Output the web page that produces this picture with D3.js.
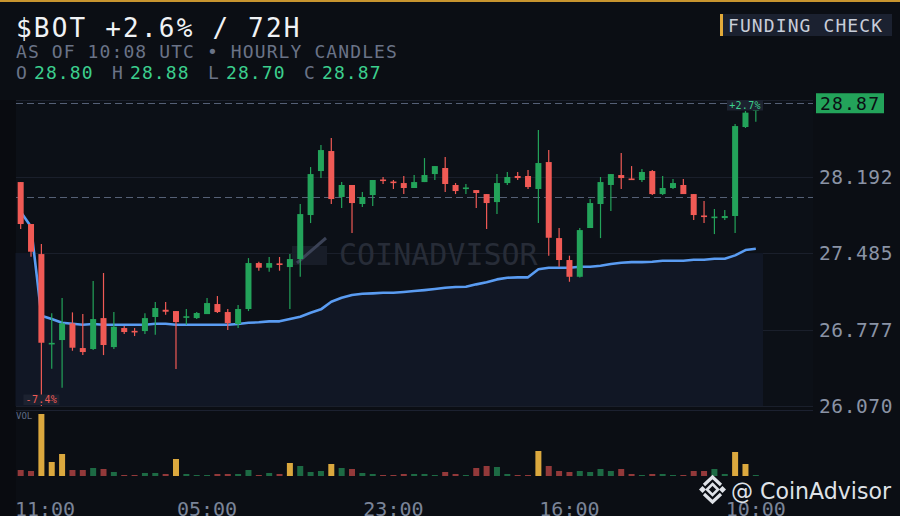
<!DOCTYPE html>
<html>
<head>
<meta charset="utf-8">
<script src="https://cdn.jsdelivr.net/npm/d3@7"></script>
<style>
  html, body { margin: 0; padding: 0; background: #0b0e14; }
  svg { display: block; }
</style>
</head>
<body>
<svg id="chart" width="900" height="516"></svg>
<script>
// hourly candles, 72 of them, oldest first
const opens = [28.141, 27.753, 27.475, 26.645, 26.680, 26.834, 26.606, 26.597, 26.883, 26.615,
  26.791, 26.765, 26.763, 26.893, 26.960, 26.948, 26.891, 26.883, 26.920, 27.013,
  26.939, 26.828, 26.967, 27.392, 27.349, 27.389, 27.355, 27.429, 27.836, 28.243,
  28.428, 28.003, 28.114, 27.938, 28.021, 28.165, 28.146, 28.132, 28.086, 28.141,
  28.215, 28.271, 28.114, 28.081, 28.067, 28.030, 27.956, 28.132, 28.197, 28.197,
  28.077, 28.326, 27.623, 27.420, 27.265, 27.716, 27.938, 28.114, 28.206, 28.174,
  28.160, 28.243, 28.030, 28.086, 28.114, 28.030, 27.832, 27.813, 27.808, 27.827,
  28.650, 28.80];
const highs = [28.141, 27.753, 27.568, 26.927, 27.068, 26.936, 26.920, 27.226, 27.300, 26.939,
  26.809, 26.791, 26.927, 27.031, 27.031, 26.948, 26.967, 26.939, 27.068, 27.087,
  26.967, 27.004, 27.438, 27.404, 27.448, 27.448, 27.475, 27.938, 28.280, 28.484,
  28.548, 28.141, 28.114, 28.049, 28.160, 28.188, 28.160, 28.197, 28.206, 28.363,
  28.289, 28.373, 28.132, 28.123, 28.067, 28.030, 28.215, 28.234, 28.234, 28.252,
  28.622, 28.437, 27.716, 27.460, 27.716, 27.984, 28.188, 28.215, 28.410, 28.289,
  28.262, 28.252, 28.197, 28.169, 28.169, 28.030, 27.966, 27.892, 27.883, 28.678,
  28.798, 28.88];
const lows = [27.707, 27.450, 26.070, 26.414, 26.239, 26.581, 26.541, 26.587, 26.541, 26.597,
  26.735, 26.717, 26.735, 26.729, 26.914, 26.412, 26.821, 26.874, 26.920, 26.930,
  26.772, 26.791, 26.948, 27.321, 27.312, 27.321, 26.967, 27.265, 27.762, 28.178,
  27.938, 27.901, 27.670, 27.910, 27.919, 28.123, 28.077, 28.030, 28.086, 28.141,
  28.160, 28.049, 28.030, 28.030, 27.901, 27.707, 27.845, 28.114, 28.160, 28.077,
  27.762, 27.460, 27.358, 27.219, 27.258, 27.716, 27.623, 27.873, 28.077, 28.160,
  28.141, 28.021, 28.021, 28.077, 28.030, 27.790, 27.762, 27.660, 27.790, 27.670,
  28.641, 28.70];
const closes = [27.753, 27.497, 26.655, 26.654, 26.834, 26.609, 26.569, 26.874, 26.634, 26.803,
  26.754, 26.756, 26.883, 26.976, 26.942, 26.846, 26.900, 26.930, 27.022, 26.939,
  26.837, 26.967, 27.392, 27.349, 27.392, 27.380, 27.429, 27.845, 28.215, 28.437,
  27.984, 28.114, 27.947, 28.003, 28.160, 28.155, 28.137, 28.086, 28.141, 28.206,
  28.289, 28.123, 28.058, 28.091, 28.040, 27.947, 28.132, 28.188, 28.178, 28.095,
  28.317, 27.626, 27.420, 27.265, 27.697, 27.947, 28.141, 28.215, 28.178, 28.165,
  28.234, 28.030, 28.086, 28.132, 28.030, 27.836, 27.822, 27.822, 27.827, 28.659,
  28.783, 28.87];
const volumes = [60, 50, 620, 140, 220, 60, 60, 80, 70, 40,
  10, 10, 30, 30, 20, 170, 20, 10, 10, 20,
  20, 20, 60, 10, 30, 20, 130, 100, 40, 50,
  120, 80, 70, 30, 20, 10, 10, 20, 20, 20,
  10, 40, 20, 10, 80, 100, 90, 20, 10, 10,
  250, 100, 50, 40, 50, 40, 70, 50, 70, 20,
  10, 20, 20, 10, 10, 50, 50, 70, 20, 240,
  120, 10];
const vwap = [27.867, 27.728, 26.905, 26.874, 26.840, 26.831, 26.821, 26.828, 26.821, 26.821,
  26.821, 26.821, 26.821, 26.831, 26.831, 26.821, 26.821, 26.821, 26.821, 26.821,
  26.821, 26.828, 26.840, 26.844, 26.853, 26.853, 26.874, 26.895, 26.932, 26.964,
  27.034, 27.071, 27.096, 27.108, 27.112, 27.117, 27.117, 27.124, 27.133, 27.142,
  27.152, 27.164, 27.170, 27.173, 27.195, 27.214, 27.241, 27.256, 27.260, 27.260,
  27.334, 27.349, 27.349, 27.349, 27.358, 27.358, 27.367, 27.383, 27.395, 27.401,
  27.401, 27.404, 27.413, 27.413, 27.413, 27.423, 27.423, 27.432, 27.432, 27.463,
  27.512, 27.524];

const priceTicks = [26.070, 26.777, 27.485, 28.192];
const priceTop = 28.90;
const refPrice = 28.00;
const spikeVol = 110;
const timeTickIdx = [0, 18, 36, 53, 71];
const timeTickLabels = ["11:00", "05:00", "23:00", "16:00", "10:00"];
const extremeLabels = ["+2.7%", "-7.4%"];

const mono = "'DejaVu Sans Mono', 'Liberation Mono', monospace";
const C = {
  bg: "#0b0e14", plot: "#0c1017", area: "#111725", grid: "#1a1f2b",
  up: "#23a35a", down: "#f05a55", volUp: "#1d6a44", volDown: "#93393a", volSpike: "#dba83e",
  line: "#5a9cf2", dash: "#556076", axis: "#8a93a5", sub: "#6a7387", green: "#3ccf8e"
};

const svg = d3.select("#chart");
const n = opens.length;
const L = 16, R = 813, T = 100, B = 406;

const x = d3.scaleBand().domain(d3.range(n)).range([15.5, 761]);
const cx = i => x(i) + x.bandwidth() / 2;
const y = d3.scaleLinear().domain([priceTicks[0], priceTop]).range([B, T]);
const yv = d3.scaleLinear().domain([0, d3.max(volumes)]).range([476, 414]);

// background
svg.append("rect").attr("width", 900).attr("height", 516).attr("fill", C.bg);
svg.append("rect").attr("x", 0).attr("y", 100).attr("width", L).attr("height", 416).attr("fill", "#090b10");
svg.append("rect").attr("x", L).attr("y", T).attr("width", R - L).attr("height", B - T).attr("fill", C.plot);
svg.append("rect").attr("width", 900).attr("height", 2).attr("fill", "#c8952f");

// header
svg.append("text").attr("x", 16).attr("y", 37).attr("font-family", mono).attr("font-size", 26)
  .attr("letter-spacing", 2.2).attr("fill", "#f0f2f5")
  .text(`$BOT ${d3.format("+.1%")(closes[n - 1] / opens[0] - 1)} / 72H`);
svg.append("text").attr("x", 16).attr("y", 58).attr("font-family", mono).attr("font-size", 18)
  .attr("letter-spacing", 1.1).attr("fill", C.sub)
  .text("AS OF 10:08 UTC • HOURLY CANDLES");

const ohlc = [["O", opens[n - 1]], ["H", highs[n - 1]], ["L", lows[n - 1]], ["C", closes[n - 1]]];
ohlc.forEach(([k, v], j) => {
  const gx = 16 + j * 96;
  svg.append("text").attr("x", gx).attr("y", 79).attr("font-family", mono).attr("font-size", 18)
    .attr("fill", C.sub).text(k);
  svg.append("text").attr("x", gx + 18).attr("y", 79).attr("font-family", mono).attr("font-size", 18)
    .attr("letter-spacing", 1.1).attr("fill", C.green).text(v.toFixed(2));
});

// funding check badge
svg.append("rect").attr("x", 720).attr("y", 14).attr("width", 172).attr("height", 22).attr("fill", "#1b2130");
svg.append("rect").attr("x", 720).attr("y", 14).attr("width", 3).attr("height", 22).attr("fill", "#e2aa3a");
svg.append("text").attr("x", 728).attr("y", 32).attr("font-family", mono).attr("font-size", 18)
  .attr("letter-spacing", 1.1).attr("fill", "#c8cdd8").text("FUNDING CHECK");

// grid
svg.append("g").selectAll("line").data(priceTicks.concat([priceTop])).join("line")
  .attr("x1", L).attr("x2", R).attr("y1", d => Math.round(y(d)) + 0.5).attr("y2", d => Math.round(y(d)) + 0.5)
  .attr("stroke", C.grid).attr("stroke-width", 1);

// area under vwap, never above the middle grid line
const areaPts = [{ x: x.range()[0], v: vwap[0] }]
  .concat(vwap.map((v, i) => ({ x: cx(i), v })))
  .concat([{ x: x.range()[1] + 2, v: vwap[n - 1] }]);
const capY = y(priceTicks[2]);
svg.append("path").datum(areaPts)
  .attr("d", d3.area().x(d => d.x).y0(B).y1(d => Math.max(y(d.v), capY)))
  .attr("fill", C.area);

// watermark
const wm = svg.append("g").attr("opacity", 1);
wm.append("rect").attr("x", 292).attr("y", 246).attr("width", 35).attr("height", 19).attr("fill", "#181d28");
wm.append("line").attr("x1", 297).attr("y1", 263).attr("x2", 326).attr("y2", 238)
  .attr("stroke", "#3b4256").attr("stroke-width", 3);
wm.append("text").attr("x", 339).attr("y", 265).attr("font-family", mono).attr("font-size", 30)
  .attr("fill", "#272c37").text("COINADVISOR");

// dashed reference lines
[refPrice, closes[n - 1]].forEach(p => {
  svg.append("line").attr("x1", L).attr("x2", R)
    .attr("y1", Math.round(y(p)) + 0.5).attr("y2", Math.round(y(p)) + 0.5)
    .attr("stroke", C.dash).attr("stroke-width", 1).attr("stroke-dasharray", "7,4");
});

// vwap line
svg.append("path").datum(vwap)
  .attr("d", d3.line().x((d, i) => cx(i)).y(d => y(d)))
  .attr("fill", "none").attr("stroke", C.line).attr("stroke-width", 2.6)
  .attr("stroke-linejoin", "round");

// candles
const candles = d3.range(n).map(i => ({ i, o: opens[i], h: highs[i], l: lows[i], c: closes[i], up: closes[i] >= opens[i] }));
const cg = svg.append("g").selectAll("g").data(candles).join("g");
cg.append("line")
  .attr("x1", d => cx(d.i)).attr("x2", d => cx(d.i))
  .attr("y1", d => y(d.h)).attr("y2", d => y(d.l))
  .attr("stroke", d => d.up ? C.up : C.down).attr("stroke-width", 1.2);
cg.append("rect")
  .attr("x", d => cx(d.i) - 3).attr("width", 6)
  .attr("y", d => y(Math.max(d.o, d.c)))
  .attr("height", d => Math.max(1.6, Math.abs(y(d.o) - y(d.c))))
  .attr("fill", d => d.up ? C.up : C.down);

// extreme labels (max high / min low), kept inside the plot
const iMax = d3.maxIndex(highs), iMin = d3.minIndex(lows);
const bw = 36, bh = 10.5;
const clampX = v => Math.max(L + bw / 2 + 4, Math.min(x.range()[1] + 2 - bw / 2, v));
[[iMax, extremeLabels[0], C.green, Math.max(T, y(highs[iMax]) - 4 - bh)],
 [iMin, extremeLabels[1], C.down, Math.min(B - bh - 1, y(lows[iMin]) + 4)]].forEach(([i, t, col, by]) => {
  const mx = clampX(cx(i));
  svg.append("rect").attr("x", mx - bw / 2).attr("y", by).attr("width", bw).attr("height", bh).attr("fill", "#1c2230");
  svg.append("text").attr("x", mx).attr("y", by + bh - 2).attr("text-anchor", "middle")
    .attr("font-family", mono).attr("font-size", 10).attr("letter-spacing", 0.3).attr("fill", col).text(t);
});

// right axis
svg.append("g").selectAll("text").data(priceTicks).join("text")
  .attr("x", 819).attr("y", d => y(d)).attr("dy", "0.36em")
  .attr("font-family", mono).attr("font-size", 19.5).attr("letter-spacing", 0.6)
  .attr("fill", C.axis).text(d => d.toFixed(3));

// last price tag
const ly = y(closes[n - 1]);
svg.append("rect").attr("x", 816).attr("y", ly - 10).attr("width", 68).attr("height", 20).attr("fill", C.up);
svg.append("text").attr("x", 820).attr("y", ly + 7).attr("font-family", mono).attr("font-size", 18)
  .attr("letter-spacing", 1.2).attr("fill", "#0b0e14").text(closes[n - 1].toFixed(2));

// volume panel
svg.append("line").attr("x1", L).attr("x2", R).attr("y1", 410.5).attr("y2", 410.5).attr("stroke", "#1c2130");
svg.append("text").attr("x", 16).attr("y", 419).attr("font-family", mono).attr("font-size", 9)
  .attr("fill", "#5e6a85").text("VOL");
svg.append("g").selectAll("rect").data(candles).join("rect")
  .attr("x", d => cx(d.i) - 3).attr("width", 6)
  .attr("y", d => Math.min(yv(volumes[d.i]), yv(0) - 1))
  .attr("height", d => Math.max(1, yv(0) - yv(volumes[d.i])))
  .attr("fill", d => volumes[d.i] >= spikeVol ? C.volSpike : (d.up ? C.volUp : C.volDown));

// time axis
svg.append("g").selectAll("text").data(timeTickIdx).join("text")
  .attr("x", (d, k) => Math.max(16 + 29, cx(d)))
  .attr("y", 515.5).attr("text-anchor", "middle")
  .attr("font-family", mono).attr("font-size", 20).attr("fill", "#7a8498")
  .text((d, k) => timeTickLabels[k]);

// brand mark
const bm = svg.append("g").attr("transform", "translate(712.5,489.5)").attr("fill", "#dfe2e8").attr("stroke", "#dfe2e8");
bm.append("path").attr("d", "M0,-5.5L5.5,0L0,5.5L-5.5,0Z").attr("fill", "none").attr("stroke-width", 2.6);
bm.append("path").attr("d", "M-10,-3.5L-6.5,0L-10,3.5L-13.5,0Z").attr("stroke", "none");
bm.append("path").attr("d", "M10,-3.5L13.5,0L10,3.5L6.5,0Z").attr("stroke", "none");
bm.append("path").attr("d", "M-8.5,-4.5L0,-12.5L8.5,-4.5").attr("fill", "none").attr("stroke-width", 3.2);
bm.append("path").attr("d", "M-8.5,4.5L0,12.5L8.5,4.5").attr("fill", "none").attr("stroke-width", 3.2);
svg.append("text").attr("x", 731).attr("y", 499).attr("font-family", "'DejaVu Sans', sans-serif")
  .attr("font-size", 23).attr("textLength", 160).attr("lengthAdjust", "spacingAndGlyphs")
  .attr("fill", "#dfe2e8").text("@ CoinAdvisor");
</script>
</body>
</html>
